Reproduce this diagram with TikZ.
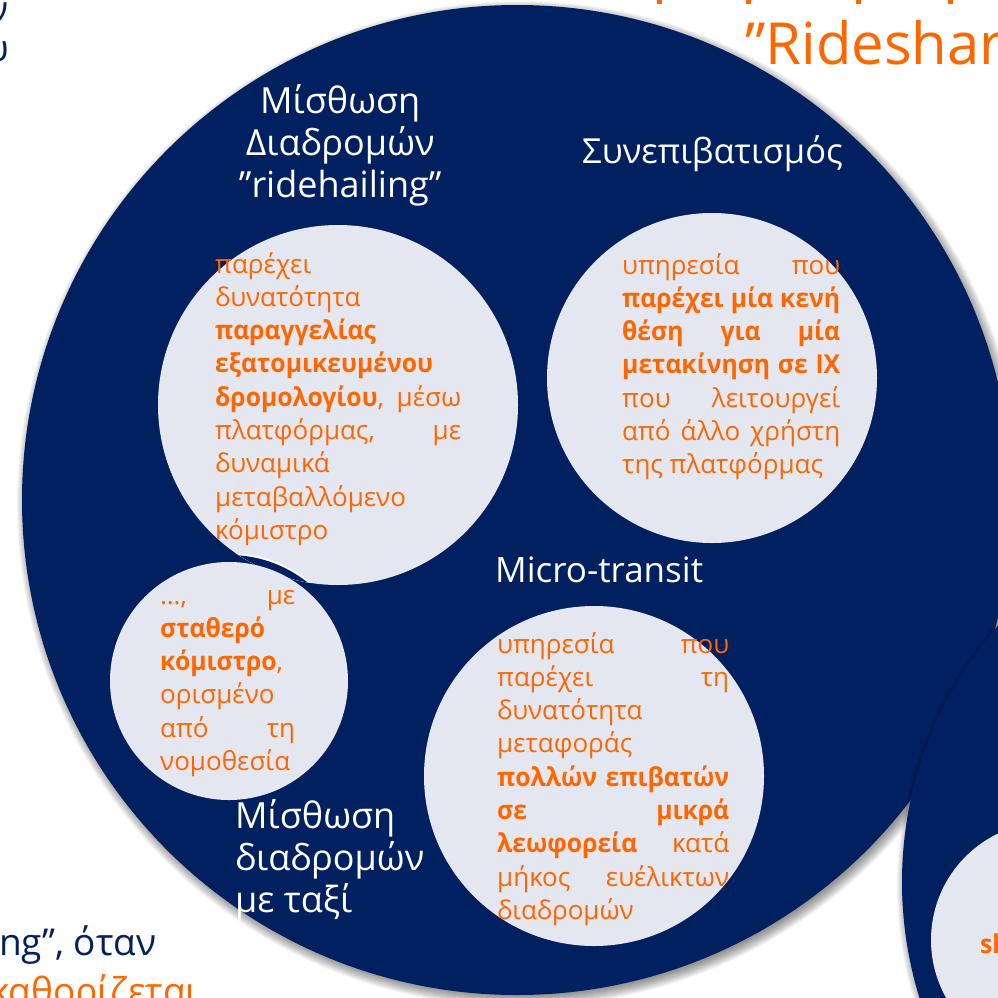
\documentclass[tikz,border=0pt]{standalone}
\usepackage{fontspec}
\setmainfont{Open Sans}[BoldFeatures={FakeStretch=0.95}]
\definecolor{navy}{RGB}{0,32,96}
\definecolor{lightc}{RGB}{228,231,239}
\definecolor{orng}{RGB}{255,102,0}
\newdimen\tw
\frenchspacing
\newcommand\jl[1]{\hbox to\tw{\spaceskip=.22em plus 1fil\relax\xspaceskip=\spaceskip #1}}
\newcommand\lft[1]{\hbox to\tw{#1\hfil}}
\newcommand\cl[1]{\hbox to\tw{\hfil #1\hfil}}
\newcommand\blk[3]{{\tw=#1\relax\vtop{\baselineskip=#2\relax\lineskiplimit=-100pt\lineskip=0pt #3}}}
\tikzset{
  lbl/.style={text=white, font=\fontsize{36}{42}\selectfont, inner sep=0pt},
  body/.style={text=orng, font=\fontsize{26}{33}\selectfont, inner sep=0pt, anchor=base west},
  sidetext/.style={font=\fontsize{37}{42}\selectfont, inner sep=0pt},
}
\newcommand\shadowcircle[3]{%
  \foreach \i in {0,...,11}{\fill[black,opacity=0.045] (#1+3,#2+4) circle[radius={(#3-3+\i)*1pt}];}}
\begin{document}
\begin{tikzpicture}[x=1pt,y=-1pt]
\useasboundingbox (0,0) rectangle (997,998);
% cut-off text outside the circles
\foreach \mx in {657,746,856,948} \fill[orng] (\mx,0) rectangle ++(5,4);
\node[anchor=base west, text=orng, font=\fontsize{58}{60}\selectfont, inner sep=0pt] (title) at (745,65) {”Rideshar};
\node[sidetext, anchor=base east, text=navy] (lt1) at (9,23) {ν};
\node[sidetext, anchor=base east, text=navy] (lt2) at (9,62) {υ};
\node[sidetext, anchor=base west, text=navy] (lb1) at (-1,955) {ng”, όταν};
\node[sidetext, anchor=base west, text=orng] (lb2) at (-10,1004) {καθορίζεται};
% big circle 1
\shadowcircle{517}{500}{495}
\fill[navy] (517,500) circle[radius=495pt];
% inner circles
\fill[lightc] (338,405) circle[radius=180pt];
\fill[lightc] (712,378) circle[radius=165pt];
\fill[lightc] (594,776) circle[radius=170pt];
\begin{scope}
  \clip (338,405) circle[radius=180pt];
  \fill[white] (229,681) circle[radius=128pt];
  \fill[navy] (229,681) circle[radius=126pt];
\end{scope}
\fill[lightc] (229,681) circle[radius=119pt];
% labels
\node[lbl, anchor=base west] (lridehail) at (220,113) {\blk{240pt}{42pt}{%
  \cl{Μίσθωση}
  \cl{Διαδρομών}
  \cl{”ridehailing”}}};
\node[lbl, anchor=base west, font=\fontsize{34.5}{42}\selectfont] (lcarpool) at (582,163) {Συνεπιβατισμός};
\node[lbl, anchor=base west, font=\fontsize{35}{42}\selectfont] (lmicro) at (495,582) {Micro-transit};
\node[lbl, anchor=base west] (ltaxi) at (235,828) {\blk{200pt}{42pt}{%
  \lft{Μίσθωση}
  \lft{διαδρομών}
  \lft{με ταξί}}};
% body texts
\node[body] (tridehail) at (215,273) {\blk{246pt}{33.3pt}{%
  \lft{παρέχει}
  \lft{δυνατότητα}
  \lft{\textbf{παραγγελίας}}
  \lft{\textbf{εξατομικευμένου}}
  \jl{\textbf{δρομολογίου}, μέσω}
  \jl{πλατφόρμας, με}
  \lft{δυναμικά}
  \lft{μεταβαλλόμενο}
  \lft{κόμιστρο}}};
\node[body] (tcarpool) at (622,274) {\blk{218pt}{33.3pt}{%
  \jl{υπηρεσία που}
  \jl{\textbf{παρέχει μία κενή}}
  \jl{\textbf{θέση για μία}}
  \jl{\textbf{μετακίνηση σε ΙΧ}}
  \jl{που λειτουργεί}
  \jl{από άλλο χρήστη}
  \lft{της πλατφόρμας}}};
\node[body] (ttaxi) at (160,604) {\blk{135pt}{33.3pt}{%
  \jl{…, με}
  \lft{\textbf{σταθερό}}
  \lft{\textbf{κόμιστρο},}
  \lft{ορισμένο}
  \jl{από τη}
  \lft{νομοθεσία}}};
\node[body] (tmicro) at (497,653) {\blk{232pt}{33.3pt}{%
  \jl{υπηρεσία που}
  \jl{παρέχει τη}
  \lft{δυνατότητα}
  \lft{μεταφοράς}
  \jl{\textbf{πολλών επιβατών}}
  \jl{\textbf{σε μικρά}}
  \jl{\textbf{λεωφορεία} κατά}
  \jl{μήκος ευέλικτων}
  \lft{διαδρομών}}};
% big circle 2
\shadowcircle{1292}{882}{390}
\fill[navy] (1292,882) circle[radius=390pt];
\fill[lightc] (1049,940) circle[radius=118pt];
\node[body, font=\fontsize{26}{33}\selectfont\bfseries] (tsh) at (980,953) {sh};
\end{tikzpicture}
\end{document}
